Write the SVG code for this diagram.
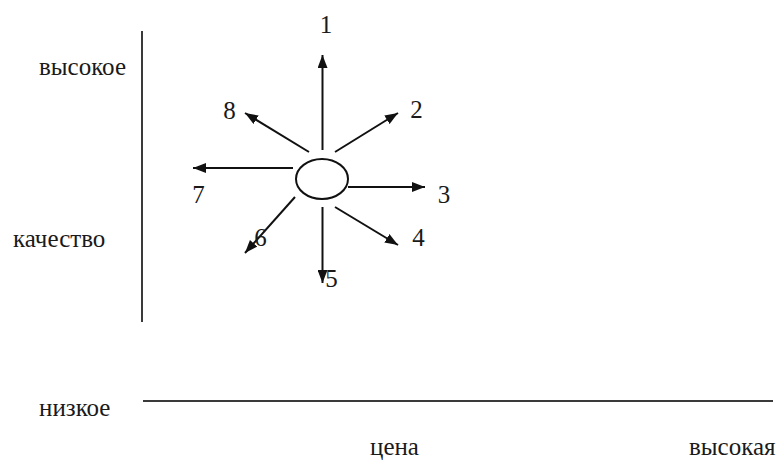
<svg xmlns="http://www.w3.org/2000/svg" width="776" height="461" viewBox="0 0 776 461">
<style>
  .t { font-family: "Liberation Serif", "DejaVu Serif", serif; font-size: 25px; fill: #1a1a1a; }
  .ax { stroke: #3a3a3a; stroke-width: 2; fill: none; }
  .ar { stroke: #111; stroke-width: 2; fill: none; marker-end: url(#ah); }
</style>
<defs>
  <marker id="ah" markerUnits="userSpaceOnUse" markerWidth="14" markerHeight="10" refX="13" refY="5" orient="auto">
    <path d="M0,0 L13,5 L0,10 z" fill="#111"/>
  </marker>
</defs>
<rect width="776" height="461" fill="#fff"/>
<g id="axes">
  <line class="ax" x1="142" y1="31" x2="142" y2="322"/>
  <line class="ax" x1="143" y1="401" x2="773" y2="401"/>
  <text class="t" x="39" y="75">высокое</text>
  <text class="t" x="13" y="247">качество</text>
  <text class="t" x="39" y="416">низкое</text>
  <text class="t" x="370" y="455">цена</text>
  <text class="t" x="689" y="455">высокая</text>
</g>
<g id="center">
  <ellipse cx="322" cy="179" rx="26" ry="20" fill="#fff" stroke="#111" stroke-width="2"/>
</g>
<g id="connectors">
  <line class="ar" x1="322.5" y1="150" x2="322.5" y2="55"/>
  <line class="ar" x1="335" y1="152" x2="398" y2="113"/>
  <line class="ar" x1="348" y1="187" x2="425" y2="187"/>
  <line class="ar" x1="335" y1="207" x2="398" y2="245"/>
  <line class="ar" x1="322.5" y1="207" x2="322.5" y2="283"/>
  <line class="ar" x1="295" y1="197" x2="245" y2="253"/>
  <line class="ar" x1="293" y1="168" x2="193" y2="168"/>
  <line class="ar" x1="309" y1="152" x2="245" y2="113"/>
</g>
<g id="labels">
  <text class="t" x="326" y="33" text-anchor="middle">1</text>
  <text class="t" x="416.5" y="118" text-anchor="middle">2</text>
  <text class="t" x="444" y="203" text-anchor="middle">3</text>
  <text class="t" x="418.5" y="246" text-anchor="middle">4</text>
  <text class="t" x="331.5" y="287" text-anchor="middle">5</text>
  <text class="t" x="260.5" y="246" text-anchor="middle">6</text>
  <text class="t" x="198.5" y="203" text-anchor="middle">7</text>
  <text class="t" x="229.5" y="119" text-anchor="middle">8</text>
</g>
</svg>
